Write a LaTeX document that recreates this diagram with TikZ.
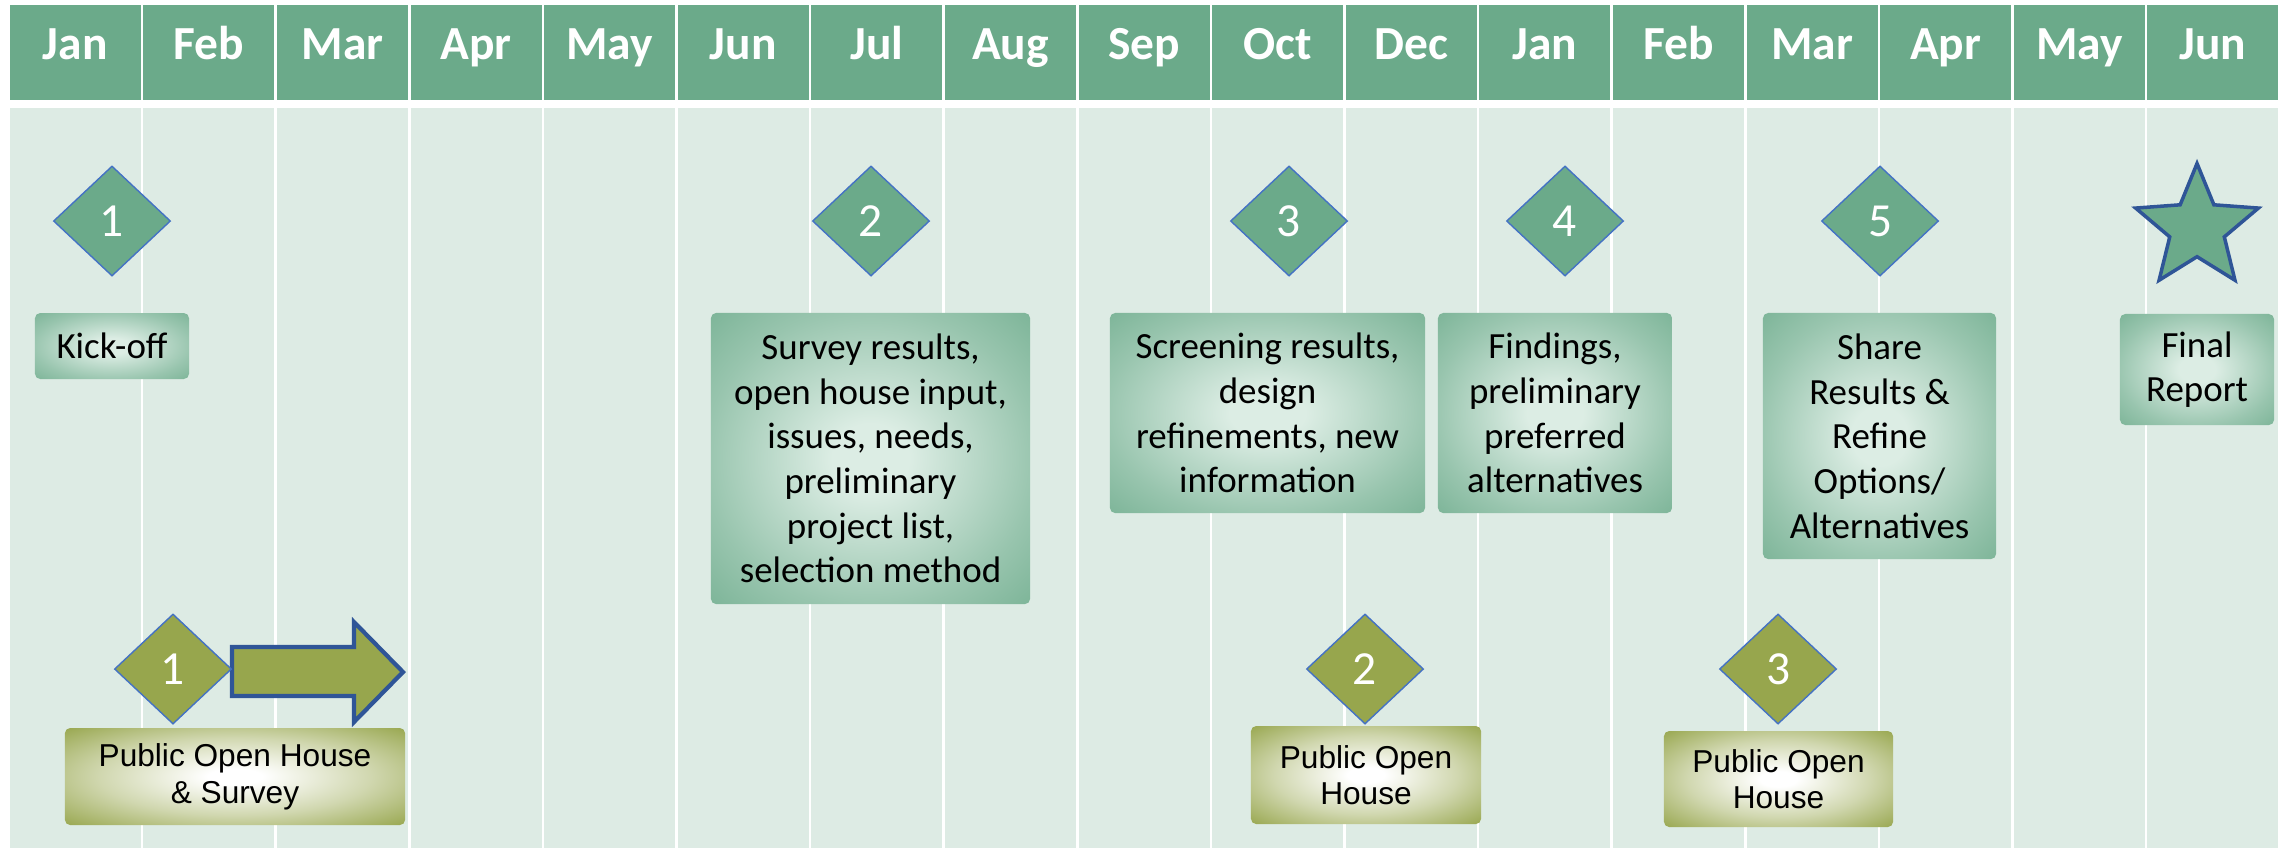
\documentclass[tikz,border=0pt]{standalone}
\usepackage{fontspec}
\setmainfont{Carlito}
\newfontfamily\arialfont{Liberation Sans}
\usetikzlibrary{shapes.geometric, positioning}
\definecolor{hdgreen}{HTML}{6BAA8A}
\definecolor{bandgreen}{HTML}{DDEBE4}
\definecolor{boxlight}{HTML}{DCEDE4}
\definecolor{olive}{HTML}{97A64D}
\definecolor{rimblue}{HTML}{4472C4}
\definecolor{darkblue}{HTML}{2F5597}
\pgfdeclareradialshading{greenglow}{\pgfpoint{0bp}{0bp}}{color(0bp)=(boxlight); color(6bp)=(boxlight); color(26bp)=(hdgreen!60!boxlight); color(42bp)=(hdgreen); color(50bp)=(hdgreen)}
\pgfdeclareradialshading{oliveglow}{\pgfpoint{0bp}{0bp}}{color(0bp)=(white); color(4bp)=(white); color(20bp)=(olive!45!white); color(36bp)=(olive); color(50bp)=(olive)}
\tikzset{
    month/.style={fill=hdgreen, text=white, font=\fontsize{13.5}{16}\selectfont\bfseries,
      minimum width=1.31cm, minimum height=0.95cm, inner sep=0pt, text height=9pt, text depth=5pt, anchor=north west},
    lane/.style={fill=bandgreen, minimum width=1.31cm, minimum height=7.40cm, inner sep=0pt, anchor=north west},
    stage/.style={diamond, fill=hdgreen, draw=rimblue, line width=0.4pt, minimum width=1.17cm,
      minimum height=1.10cm, inner sep=0pt, text=white, font=\fontsize{13.5}{16}\selectfont},
    house/.style={stage, fill=olive},
    note/.style={shading=greenglow, rounded corners=1.5pt, align=center, inner sep=0pt,
      font=\fontsize{10.5}{12.7}\selectfont},
    poster/.style={shading=oliveglow, rounded corners=1.5pt, align=center, inner sep=0pt,
      font=\arialfont\fontsize{9}{10.4}\selectfont},
    push/.style={fill=olive, draw=darkblue, line width=1.2pt, line join=miter},
}
\begin{document}
\begin{tikzpicture}[x=0.01cm, y=-0.01cm]
    \fill[white] (0,0) rectangle (2280,847);
    \useasboundingbox (0,0) rectangle (2280,847);

    \foreach \m [count=\i from 0] in {Jan,Feb,Mar,Apr,May,Jun,Jul,Aug,Sep,Oct,Dec,Jan,Feb,Mar,Apr,May,Jun}{
      \node[month] (m\i) at ({9+133.6*\i},4) {\m};
      \node[lane] (l\i) at ({9+133.6*\i},107) {};
    }

    \node[stage] (s1) at (112,221) {1};
    \node[stage] (s2) at (871,221) {2};
    \node[stage] (s3) at (1289,221) {3};
    \node[stage] (s4) at (1565,221) {4};
    \node[stage] (s5) at (1880,221) {5};
    \node[star, star points=5, star point ratio=2.25, fill=hdgreen, draw=darkblue, line width=1pt,
      minimum size=1.29cm, inner sep=0pt] (fin) at (2197,228) {};

    \node[note, minimum width=1.54cm, minimum height=0.66cm] (kick) at (112,346) {Kick-off};
    \node[note, minimum width=3.19cm, minimum height=2.91cm] (survey) at (870.5,458.5)
      {Survey results,\\ open house input,\\ issues, needs,\\ preliminary\\ project list,\\ selection method};
    \node[note, minimum width=3.15cm, minimum height=2.00cm] (screen) at (1267.5,413)
      {Screening results,\\ design\\ refinements, new\\ information};
    \node[note, minimum width=2.34cm, minimum height=2.00cm] (findings) at (1555,413)
      {Findings,\\ preliminary\\ preferred\\ alternatives};
    \node[note, minimum width=2.33cm, minimum height=2.46cm] (share) at (1879.5,436)
      {Share\\ Results \&\\ Refine\\ Options/\\ Alternatives};
    \node[note, minimum width=1.54cm, minimum height=1.11cm] (report) at (2197,369.5)
      {Final\\ Report};

    \draw[push] (232,647) -- (354,647) -- (354,622) -- (403,672) -- (354,722) -- (354,696) -- (232,696) -- cycle;

    \node[house] (h1) at (173,669) {1};
    \node[house] (h2) at (1365,669) {2};
    \node[house] (h3) at (1778,669) {3};

    \node[poster, minimum width=3.40cm, minimum height=0.97cm] (oh1) at (235,776.5)
      {Public Open House\\ \& Survey};
    \node[poster, minimum width=2.30cm, minimum height=0.98cm] (oh2) at (1366,775)
      {Public Open\\ House};
    \node[poster, minimum width=2.29cm, minimum height=0.96cm] (oh3) at (1778.5,779)
      {Public Open\\ House};
\end{tikzpicture}
\end{document}
